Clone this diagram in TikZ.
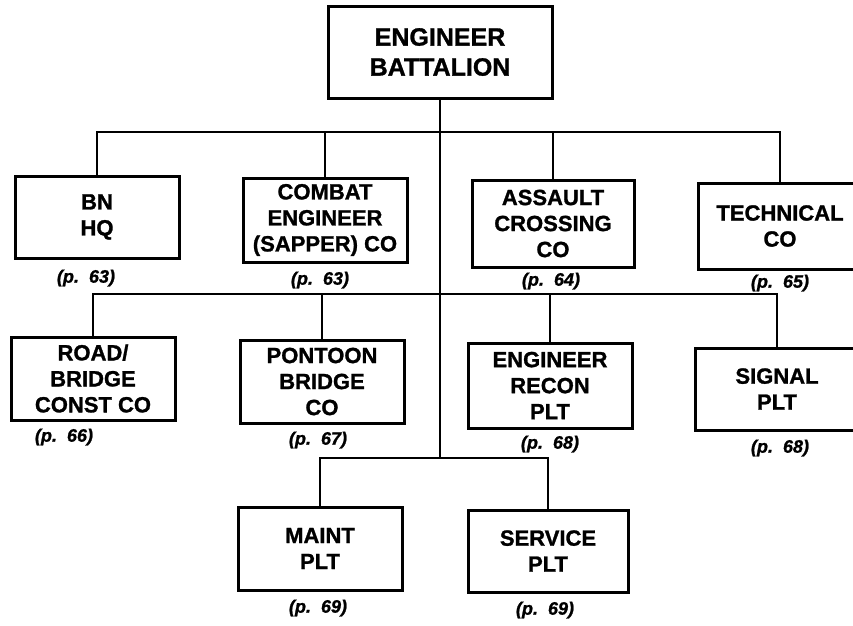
\documentclass[tikz,border=0pt]{standalone}
\usepackage{fontspec}
\setmainfont{Liberation Sans}[BoldFeatures={FakeBold=1.2}, BoldItalicFeatures={FakeBold=1.2}]
\begin{document}
\begin{tikzpicture}[x=1pt,y=-1pt,
  box/.style={draw=black, line width=3pt, fill=white, rectangle, align=center, inner sep=0pt,
    font=\bfseries\fontsize{22}{26}\selectfont},
  topbox/.style={box, font=\bfseries\fontsize{25}{30}\selectfont},
  pg/.style={inner sep=0pt, font=\bfseries\itshape\fontsize{18}{20}\selectfont},
  conn/.style={draw=black, line width=2.6pt, line cap=rect}]
\fill[white] (0,0) rectangle (853,625);
\useasboundingbox (0,0) rectangle (853,625);

% boxes
\node[topbox, minimum width=224pt, minimum height=92pt] (top) at (440,52) {ENGINEER\\BATTALION};

\node[box, minimum width=164pt, minimum height=82pt] (bn) at (97,217) {BN\\HQ};
\node[box, minimum width=164pt, minimum height=84pt] (combat) at (325,220) {COMBAT\\ENGINEER\\(SAPPER) CO};
\node[box, minimum width=162pt, minimum height=87pt] (assault) at (553,223.5) {ASSAULT\\CROSSING\\CO};
\node[box, minimum width=164pt, minimum height=86pt] (tech) at (780,226) {TECHNICAL\\CO};

\node[box, minimum width=164pt, minimum height=83pt] (road) at (93,378.5) {ROAD/\\BRIDGE\\CONST CO};
\node[box, minimum width=164pt, minimum height=83pt] (pontoon) at (322,381.5) {PONTOON\\BRIDGE\\CO};
\node[box, minimum width=164pt, minimum height=85pt] (recon) at (550,385.5) {ENGINEER\\RECON\\PLT};
\node[box, minimum width=164pt, minimum height=82pt] (signal) at (777,389) {SIGNAL\\PLT};

\node[box, minimum width=164pt, minimum height=83pt] (maint) at (320,548.5) {MAINT\\PLT};
\node[box, minimum width=160pt, minimum height=82pt] (service) at (548,551) {SERVICE\\PLT};

% page labels
\node[pg] (lbn) at (86,278) {(p.~~63)};
\node[pg] (lcombat) at (320,280) {(p.~~63)};
\node[pg] (lassault) at (551,281) {(p.~~64)};
\node[pg] (ltech) at (780,283) {(p.~~65)};
\node[pg] (lroad) at (64,437) {(p.~~66)};
\node[pg] (lpontoon) at (318,440) {(p.~~67)};
\node[pg] (lrecon) at (550,444) {(p.~~68)};
\node[pg] (lsignal) at (780,448) {(p.~~68)};
\node[pg] (lmaint) at (318,608) {(p.~~69)};
\node[pg] (lservice) at (545,610) {(p.~~69)};

% bus levels
\coordinate (b1) at (0,132);
\coordinate (b2) at (0,294);
\coordinate (b3) at (0,458);

% connectors
\draw[conn] (top.south) -- (top.south |- b3);
\draw[conn] (bn.north) -- (bn.north |- b1) -- (tech.north |- b1) -- (tech.north);
\draw[conn] (combat.north) -- (combat.north |- b1);
\draw[conn] (assault.north) -- (assault.north |- b1);
\draw[conn] (road.north) -- (road.north |- b2) -- (signal.north |- b2) -- (signal.north);
\draw[conn] (pontoon.north) -- (pontoon.north |- b2);
\draw[conn] (recon.north) -- (recon.north |- b2);
\draw[conn] (maint.north) -- (maint.north |- b3) -- (service.north |- b3) -- (service.north);
\end{tikzpicture}
\end{document}
